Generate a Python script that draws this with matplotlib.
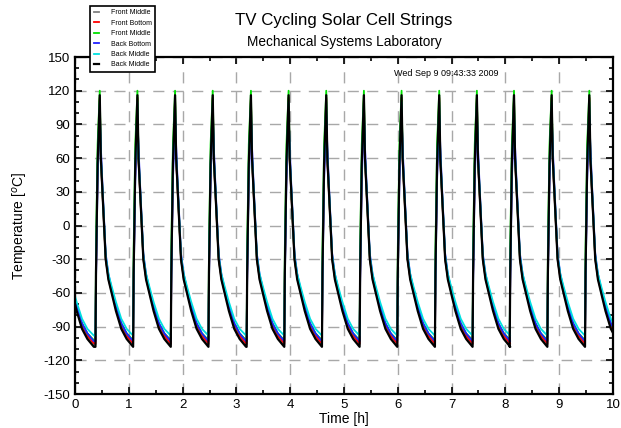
import numpy as np
import matplotlib
matplotlib.use("Agg")
import matplotlib.pyplot as plt
from matplotlib.ticker import MultipleLocator

plt.rcParams['font.family'] = ['Liberation Sans', 'DejaVu Sans']
plt.rcParams['axes.unicode_minus'] = False

# start of each heating pulse [h] (first one is before t=0)
cycle_starts = [-0.35, 0.38, 1.08, 1.78, 2.48, 3.19, 3.89, 4.59, 5.29,
                5.99, 6.69, 7.39, 8.08, 8.78, 9.48]

# time inside one cycle [h] and the temperature of each sensor [C]
cycle_t = [0.00, 0.01, 0.04, 0.08, 0.10, 0.13, 0.16, 0.19, 0.24, 0.30,
           0.38, 0.48, 0.58, 0.70]
front_middle_gray = [-106, -45, 50, 113, 58, 28, 0, -30, -47, -59, -74, -90, -99, -106]
front_bottom = [-105, -42, 52, 114, 59, 29, 1, -29, -46, -58, -73, -89, -98, -105]
front_middle_green = [-102, -20, 72, 120, 62, 31, 2, -28, -45, -57, -72, -87, -96, -102]
back_bottom = [-103, -50, 40, 98, 70, 36, 5, -25, -43, -56, -71, -87, -96, -103]
back_middle_cyan = [-98, -40, 55, 110, 62, 32, 3, -27, -43, -54, -68, -83, -92, -98]
back_middle_black = [-108, -42, 55, 116, 60, 29, 0, -30, -48, -60, -76, -92, -101, -108]

names = ["Front Middle", "Front Bottom", "Front Middle",
         "Back Bottom", "Back Middle", "Back Middle"]
colors = ["#808080", "#ff0000", "#00e000", "#2020ff", "#00e0e0", "#000000"]
series = [front_middle_gray, front_bottom, front_middle_green,
          back_bottom, back_middle_cyan, back_middle_black]

fig = plt.figure(figsize=(6.21, 4.28), dpi=100)
ax = fig.add_axes([0.1208, 0.0794, 0.8663, 0.7874])

lines = []
for name, col, temps in zip(names, colors, series):
    tt = []
    yy = []
    for s in cycle_starts:
        for dt, v in zip(cycle_t, temps):
            tt.append(s + dt)
            yy.append(v)
    lw = 1.6 if col == "#000000" else 1.3
    ln, = ax.plot(tt, yy, color=col, lw=lw, label=name)
    lines.append(ln)

ax.set_xlim(0, 10)
ax.set_ylim(-150, 150)
ax.xaxis.set_major_locator(MultipleLocator(1))
ax.xaxis.set_minor_locator(MultipleLocator(0.5))
ax.yaxis.set_major_locator(MultipleLocator(30))
ax.yaxis.set_minor_locator(MultipleLocator(10))
ax.tick_params(which='both', direction='in', top=True, right=True,
               labelsize=9.5, width=1.2)
ax.tick_params(which='major', length=5)
ax.tick_params(which='minor', length=3)
ax.grid(True, which='major', color='#a8a8a8', ls=(0, (8, 6)), lw=1)
for sp in ax.spines.values():
    sp.set_linewidth(1.6)

ax.set_xlabel("Time [h]", fontsize=10, labelpad=1)
ax.set_ylabel("Temperature [$^o$C]", fontsize=10, labelpad=10)

fig.text(0.553, 0.951, "TV Cycling Solar Cell Strings", ha='center', va='center', fontsize=12.2)
fig.text(0.554, 0.902, "Mechanical Systems Laboratory", ha='center', va='center', fontsize=9.8)
ax.text(0.593, 0.952, "Wed Sep 9 09:43:33 2009", transform=ax.transAxes,
        fontsize=6.5, ha='left', va='center')

leg = fig.legend(handles=lines, loc='upper left', bbox_to_anchor=(0.140, 0.995),
                 fontsize=5, frameon=True, fancybox=False, handlelength=0.8,
                 handletextpad=1.6, borderpad=0.5, labelspacing=0.5)
leg.get_frame().set_edgecolor('black')
leg.get_frame().set_linewidth(1.2)
leg.get_frame().set_alpha(1)

fig.savefig("out.png", dpi=100)
